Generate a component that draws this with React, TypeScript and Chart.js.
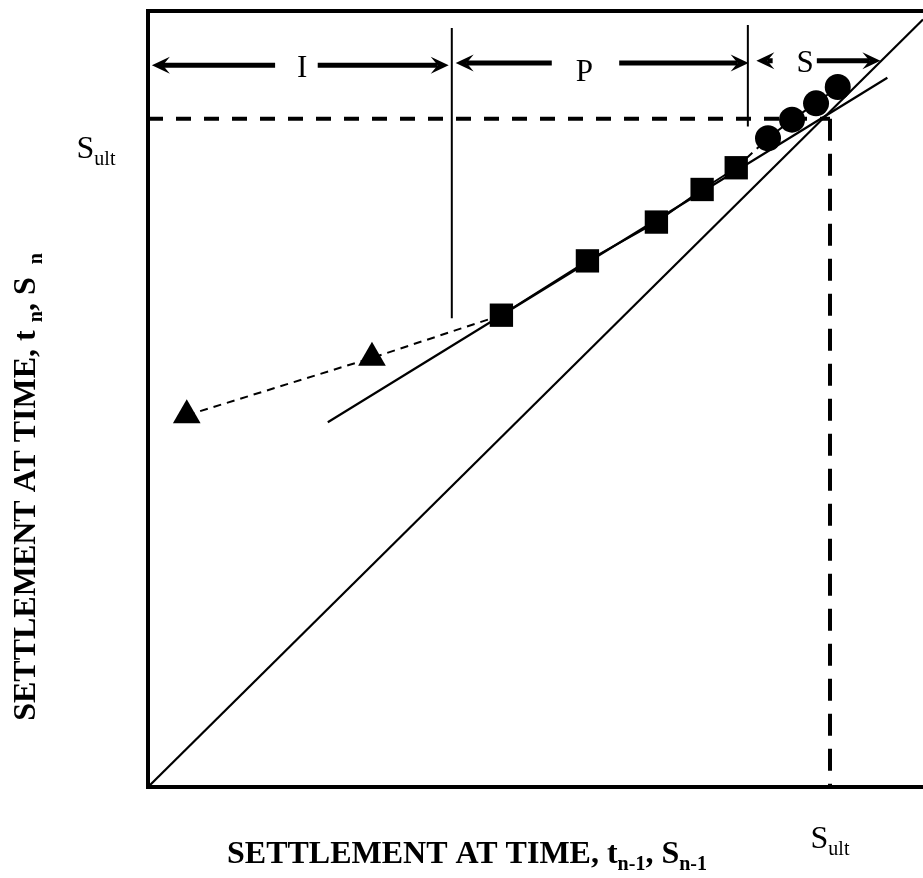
import React, { useEffect, useRef } from "react";
import { Chart, registerables } from "chart.js";

Chart.register(...registerables);

// ---- data (in settlement units, 0..100 on both axes) ----
const initialX = [5.0, 28.9];
const initialY = [47.9, 55.3];
const primaryX = [45.6, 56.7, 65.6, 71.5, 75.9];
const primaryY = [60.8, 67.8, 72.8, 77.0, 79.8];
const secondaryX = [80.0, 83.1, 86.2, 89.0];
const secondaryY = [83.6, 86.0, 88.1, 90.2];
const fitX = [23.2, 95.4];
const fitY = [47.0, 91.4];
const equalityX = [0, 100];
const equalityY = [0, 98.9];
const ultimateX = 88.0;
const ultimateY = 86.1;
const phaseBoundaryX = [39.2, 77.4];
const phaseBoundaryTop = [97.8, 98.2];
const phaseBoundaryBottom = [60.4, 85.1];
const phaseLabels = ["I", "P", "S"];
const phaseStart = [0.5, 39.7, 78.5];
const phaseGapStart = [16.4, 52.1, 80.6];
const phaseGapEnd = [21.9, 60.8, 86.3];
const phaseEnd = [38.8, 77.5, 94.5];
const phaseLabelX = [19.9, 56.3, 84.8];
const phaseLabelY = [91.5, 91.0, 92.1];
const phaseArrowY = [93.0, 93.3, 93.6];

const SERIF = "'Liberation Serif', 'Times New Roman', serif";

const pts = (xs: number[], ys: number[]) => xs.map((x, i) => ({ x, y: ys[i] }));

type Seg = { t: string; sub?: boolean };

function drawRich(
  ctx: CanvasRenderingContext2D,
  segs: Seg[],
  cx: number,
  y: number,
  mainFont: string,
  subFont: string,
  subShift: number
) {
  let total = 0;
  const widths = segs.map((s) => {
    ctx.font = s.sub ? subFont : mainFont;
    const w = ctx.measureText(s.t).width;
    total += w;
    return w;
  });
  let x = cx - total / 2;
  ctx.textAlign = "left";
  ctx.textBaseline = "alphabetic";
  segs.forEach((s, i) => {
    ctx.font = s.sub ? subFont : mainFont;
    ctx.fillText(s.t, x, s.sub ? y + subShift : y);
    x += widths[i];
  });
}

function arrowHead(ctx: CanvasRenderingContext2D, tipX: number, y: number, dir: number) {
  ctx.beginPath();
  ctx.moveTo(tipX, y);
  ctx.lineTo(tipX - dir * 18, y - 8.5);
  ctx.lineTo(tipX - dir * 11, y);
  ctx.lineTo(tipX - dir * 18, y + 8.5);
  ctx.closePath();
  ctx.fill();
}

const decorPlugin = {
  id: "decor",
  beforeDatasetsDraw(chart: any) {
    const { ctx, chartArea } = chart;
    ctx.save();
    ctx.strokeStyle = "#000";
    ctx.lineWidth = 4;
    ctx.lineCap = "square";
    ctx.beginPath();
    ctx.moveTo(chart.width + 5, chartArea.top);
    ctx.lineTo(chartArea.left, chartArea.top);
    ctx.lineTo(chartArea.left, chartArea.bottom);
    ctx.lineTo(chart.width + 5, chartArea.bottom);
    ctx.stroke();
    ctx.restore();
  },
  afterDatasetsDraw(chart: any) {
    const { ctx } = chart;
    const xs = chart.scales.x;
    const ys = chart.scales.y;
    ctx.save();
    ctx.fillStyle = "#000";
    ctx.strokeStyle = "#000";
    // phase brackets
    phaseLabels.forEach((lab, i) => {
      const y = ys.getPixelForValue(phaseArrowY[i]);
      const a = xs.getPixelForValue(phaseStart[i]);
      const g1 = xs.getPixelForValue(phaseGapStart[i]);
      const g2 = xs.getPixelForValue(phaseGapEnd[i]);
      const b = xs.getPixelForValue(phaseEnd[i]);
      ctx.lineWidth = 5;
      ctx.lineCap = "butt";
      ctx.beginPath();
      ctx.moveTo(a + 11, y);
      ctx.lineTo(g1, y);
      ctx.moveTo(g2, y);
      ctx.lineTo(b - 11, y);
      ctx.stroke();
      arrowHead(ctx, a, y, -1);
      arrowHead(ctx, b, y, 1);
      ctx.font = `31px ${SERIF}`;
      ctx.textAlign = "center";
      ctx.textBaseline = "alphabetic";
      ctx.fillText(lab, xs.getPixelForValue(phaseLabelX[i]), ys.getPixelForValue(phaseLabelY[i]));
    });

    // S_ult labels
    const sultSegs: Seg[] = [{ t: "S" }, { t: "ult", sub: true }];
    drawRich(ctx, sultSegs, 96, 158, `32px ${SERIF}`, `20px ${SERIF}`, 7);
    drawRich(ctx, sultSegs, xs.getPixelForValue(ultimateX), 848, `32px ${SERIF}`, `20px ${SERIF}`, 7);

    // axis titles
    const main = `bold 32px ${SERIF}`;
    const sub = `bold 20px ${SERIF}`;
    drawRich(
      ctx,
      [
        { t: "SETTLEMENT AT TIME, t" },
        { t: "n-1", sub: true },
        { t: ", S" },
        { t: "n-1", sub: true },
      ],
      467,
      863,
      main,
      sub,
      7
    );
    ctx.save();
    ctx.translate(35, 487);
    ctx.rotate(-Math.PI / 2);
    drawRich(
      ctx,
      [
        { t: "SETTLEMENT AT TIME, t " },
        { t: "n", sub: true },
        { t: ", S " },
        { t: " n", sub: true },
      ],
      0,
      0,
      main,
      sub,
      7
    );
    ctx.restore();
    ctx.restore();
  },
};

export default function App() {
  const ref = useRef<HTMLCanvasElement | null>(null);
  useEffect(() => {
    if (!ref.current) return;
    const black = "#000";
    const chart = new Chart(ref.current, {
      type: "scatter",
      data: {
        datasets: [
          {
            label: "Initial",
            data: pts(initialX, initialY),
            pointStyle: "triangle",
            pointRadius: 16,
            backgroundColor: black,
            borderColor: black,
            pointBorderWidth: 0,
            showLine: false,
          },
          {
            label: "Primary",
            data: pts(primaryX, primaryY),
            pointStyle: "rect",
            pointRadius: 16.5,
            backgroundColor: black,
            borderColor: black,
            pointBorderWidth: 0,
            showLine: false,
          },
          {
            label: "Secondary",
            data: pts(secondaryX, secondaryY),
            pointStyle: "circle",
            pointRadius: 13,
            backgroundColor: black,
            borderColor: black,
            pointBorderWidth: 0,
            showLine: false,
          },
          {
            label: "Initial link",
            data: [...pts(initialX, initialY), { x: primaryX[0], y: primaryY[0] }],
            showLine: true,
            borderColor: black,
            borderWidth: 2,
            borderDash: [8, 6],
            pointRadius: 0,
          },
          {
            label: "Primary link",
            data: pts(primaryX, primaryY),
            showLine: true,
            borderColor: black,
            borderWidth: 2,
            pointRadius: 0,
          },
          {
            label: "Secondary link",
            data: [{ x: primaryX[primaryX.length - 1], y: primaryY[primaryY.length - 1] }, ...pts(secondaryX, secondaryY)],
            showLine: true,
            borderColor: black,
            borderWidth: 2,
            borderDash: [8, 6],
            pointRadius: 0,
          },
          {
            label: "Fit",
            data: pts(fitX, fitY),
            showLine: true,
            borderColor: black,
            borderWidth: 2.2,
            pointRadius: 0,
          },
          {
            label: "Equality",
            data: pts(equalityX, equalityY),
            showLine: true,
            borderColor: black,
            borderWidth: 2.2,
            pointRadius: 0,
          },
          {
            label: "Sult horizontal",
            data: [
              { x: 0, y: ultimateY },
              { x: ultimateX, y: ultimateY },
            ],
            showLine: true,
            borderColor: black,
            borderWidth: 4,
            borderDash: [15, 13],
            pointRadius: 0,
          },
          {
            label: "Sult vertical",
            data: [
              { x: ultimateX, y: ultimateY },
              { x: ultimateX, y: 0 },
            ],
            showLine: true,
            borderColor: black,
            borderWidth: 4,
            borderDash: [22, 13],
            pointRadius: 0,
          },
          ...phaseBoundaryX.map((bx, i) => ({
            label: `Boundary ${i + 1}`,
            data: [
              { x: bx, y: phaseBoundaryTop[i] },
              { x: bx, y: phaseBoundaryBottom[i] },
            ],
            showLine: true,
            borderColor: black,
            borderWidth: 2,
            pointRadius: 0,
          })),
        ] as any,
      },
      options: {
        responsive: false,
        devicePixelRatio: 1,
        animation: false,
        layout: { autoPadding: false, padding: { left: 148, top: 11, right: 0, bottom: 91 } },
        scales: {
          x: { type: "linear", min: 0, max: 100, display: false },
          y: { type: "linear", min: 0, max: 100, display: false },
        },
        plugins: { legend: { display: false }, tooltip: { enabled: false } },
        elements: { line: { tension: 0 } },
      },
      plugins: [decorPlugin],
    });
    return () => chart.destroy();
  }, []);
  return (
    <div style={{ position: "fixed", left: 0, top: 0, width: 923, height: 878, background: "#fff" }}>
      <canvas ref={ref} width={923} height={878} style={{ display: "block", width: 923, height: 878 }} />
    </div>
  );
}
